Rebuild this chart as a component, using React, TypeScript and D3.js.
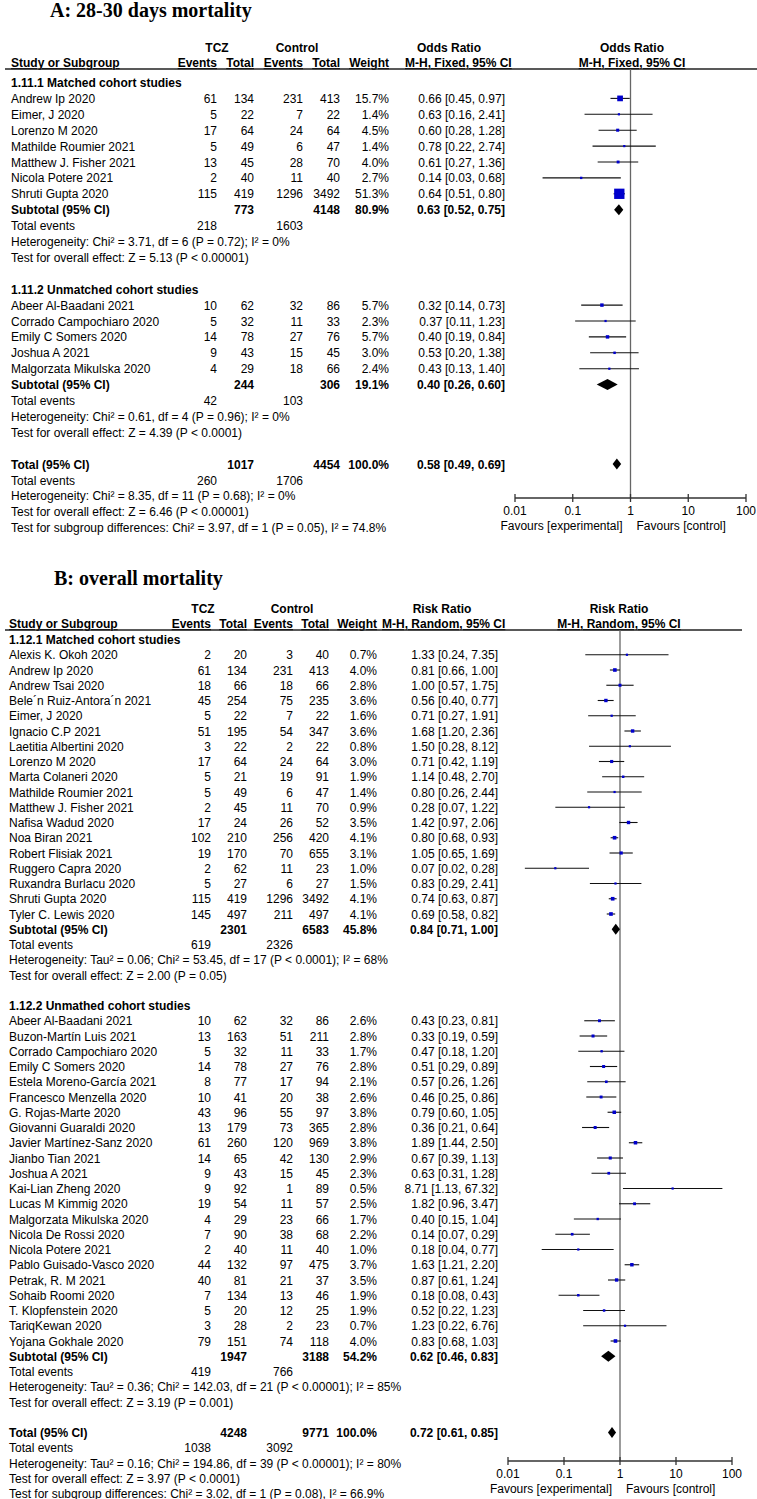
import React from "react";
import * as d3 from "d3";

// ---------------- Panel A data (28-30 days mortality, Odds Ratio) ----------------
const a1Studies = ["Andrew Ip 2020", "Eimer, J 2020", "Lorenzo M 2020", "Mathilde Roumier 2021", "Matthew J. Fisher 2021", "Nicola Potere 2021", "Shruti Gupta 2020"];
const a1EventsTcz = [61, 5, 17, 5, 13, 2, 115];
const a1TotalTcz = [134, 22, 64, 49, 45, 40, 419];
const a1EventsCtrl = [231, 7, 24, 6, 28, 11, 1296];
const a1TotalCtrl = [413, 22, 64, 47, 70, 40, 3492];
const a1Weight = [15.7, 1.4, 4.5, 1.4, 4.0, 2.7, 51.3];
const a1Est = [0.66, 0.63, 0.6, 0.78, 0.61, 0.14, 0.64];
const a1Lo = [0.45, 0.16, 0.28, 0.22, 0.27, 0.03, 0.51];
const a1Hi = [0.97, 2.41, 1.28, 2.74, 1.36, 0.68, 0.8];

const a2Studies = ["Abeer Al-Baadani 2021", "Corrado Campochiaro 2020", "Emily C Somers 2020", "Joshua A 2021", "Malgorzata Mikulska 2020"];
const a2EventsTcz = [10, 5, 14, 9, 4];
const a2TotalTcz = [62, 32, 78, 43, 29];
const a2EventsCtrl = [32, 11, 27, 15, 18];
const a2TotalCtrl = [86, 33, 76, 45, 66];
const a2Weight = [5.7, 2.3, 5.7, 3.0, 2.4];
const a2Est = [0.32, 0.37, 0.4, 0.53, 0.43];
const a2Lo = [0.14, 0.11, 0.19, 0.2, 0.13];
const a2Hi = [0.73, 1.23, 0.84, 1.38, 1.4];

// subtotal: [totalTcz, totalCtrl, weight, est, lo, hi], events: [tcz, ctrl]
const aSubtotals = [
  [773, 4148, 80.9, 0.63, 0.52, 0.75],
  [244, 306, 19.1, 0.4, 0.26, 0.6],
];
const aSubEvents = [[218, 1603], [42, 103]];
const aSections = ["1.11.1 Matched cohort studies", "1.11.2 Unmatched cohort studies"];
const aHet = ["Heterogeneity: Chi² = 3.71, df = 6 (P = 0.72); I² = 0%", "Heterogeneity: Chi² = 0.61, df = 4 (P = 0.96); I² = 0%"];
const aTest = ["Test for overall effect: Z = 5.13 (P < 0.00001)", "Test for overall effect: Z = 4.39 (P < 0.0001)"];
const aTotal = [1017, 4454, 100.0, 0.58, 0.49, 0.69];
const aTotalEvents = [260, 1706];
const aTotalTexts = [
  "Heterogeneity: Chi² = 8.35, df = 11 (P = 0.68); I² = 0%",
  "Test for overall effect: Z = 6.46 (P < 0.00001)",
  "Test for subgroup differences: Chi² = 3.97, df = 1 (P = 0.05), I² = 74.8%",
];

// ---------------- Panel B data (overall mortality, Risk Ratio) ----------------
const b1Studies = ["Alexis K. Okoh 2020", "Andrew Ip 2020", "Andrew Tsai 2020", "Bele´n Ruiz-Antora´n 2021", "Eimer, J 2020", "Ignacio C.P 2021", "Laetitia Albertini 2020", "Lorenzo M 2020", "Marta Colaneri 2020", "Mathilde Roumier 2021", "Matthew J. Fisher 2021", "Nafisa Wadud 2020", "Noa Biran 2021", "Robert Flisiak 2021", "Ruggero Capra 2020", "Ruxandra Burlacu 2020", "Shruti Gupta 2020", "Tyler C. Lewis 2020"];
const b1EventsTcz = [2, 61, 18, 45, 5, 51, 3, 17, 5, 5, 2, 17, 102, 19, 2, 5, 115, 145];
const b1TotalTcz = [20, 134, 66, 254, 22, 195, 22, 64, 21, 49, 45, 24, 210, 170, 62, 27, 419, 497];
const b1EventsCtrl = [3, 231, 18, 75, 7, 54, 2, 24, 19, 6, 11, 26, 256, 70, 11, 6, 1296, 211];
const b1TotalCtrl = [40, 413, 66, 235, 22, 347, 22, 64, 91, 47, 70, 52, 420, 655, 23, 27, 3492, 497];
const b1Weight = [0.7, 4.0, 2.8, 3.6, 1.6, 3.6, 0.8, 3.0, 1.9, 1.4, 0.9, 3.5, 4.1, 3.1, 1.0, 1.5, 4.1, 4.1];
const b1Est = [1.33, 0.81, 1.0, 0.56, 0.71, 1.68, 1.5, 0.71, 1.14, 0.8, 0.28, 1.42, 0.8, 1.05, 0.07, 0.83, 0.74, 0.69];
const b1Lo = [0.24, 0.66, 0.57, 0.4, 0.27, 1.2, 0.28, 0.42, 0.48, 0.26, 0.07, 0.97, 0.68, 0.65, 0.02, 0.29, 0.63, 0.58];
const b1Hi = [7.35, 1.0, 1.75, 0.77, 1.91, 2.36, 8.12, 1.19, 2.7, 2.44, 1.22, 2.06, 0.93, 1.69, 0.28, 2.41, 0.87, 0.82];

const b2Studies = ["Abeer Al-Baadani 2021", "Buzon-Martín Luis 2021", "Corrado Campochiaro 2020", "Emily C Somers 2020", "Estela Moreno-García 2021", "Francesco Menzella 2020", "G. Rojas-Marte 2020", "Giovanni Guaraldi 2020", "Javier Martínez-Sanz 2020", "Jianbo Tian 2021", "Joshua A 2021", "Kai-Lian Zheng 2020", "Lucas M Kimmig 2020", "Malgorzata Mikulska 2020", "Nicola De Rossi 2020", "Nicola Potere 2021", "Pablo Guisado-Vasco 2020", "Petrak, R. M 2021", "Sohaib Roomi 2020", "T. Klopfenstein 2020", "TariqKewan 2020", "Yojana Gokhale 2020"];
const b2EventsTcz = [10, 13, 5, 14, 8, 10, 43, 13, 61, 14, 9, 9, 19, 4, 7, 2, 44, 40, 7, 5, 3, 79];
const b2TotalTcz = [62, 163, 32, 78, 77, 41, 96, 179, 260, 65, 43, 92, 54, 29, 90, 40, 132, 81, 134, 20, 28, 151];
const b2EventsCtrl = [32, 51, 11, 27, 17, 20, 55, 73, 120, 42, 15, 1, 11, 23, 38, 11, 97, 21, 13, 12, 2, 74];
const b2TotalCtrl = [86, 211, 33, 76, 94, 38, 97, 365, 969, 130, 45, 89, 57, 66, 68, 40, 475, 37, 46, 25, 23, 118];
const b2Weight = [2.6, 2.8, 1.7, 2.8, 2.1, 2.6, 3.8, 2.8, 3.8, 2.9, 2.3, 0.5, 2.5, 1.7, 2.2, 1.0, 3.7, 3.5, 1.9, 1.9, 0.7, 4.0];
const b2Est = [0.43, 0.33, 0.47, 0.51, 0.57, 0.46, 0.79, 0.36, 1.89, 0.67, 0.63, 8.71, 1.82, 0.4, 0.14, 0.18, 1.63, 0.87, 0.18, 0.52, 1.23, 0.83];
const b2Lo = [0.23, 0.19, 0.18, 0.29, 0.26, 0.25, 0.6, 0.21, 1.44, 0.39, 0.31, 1.13, 0.96, 0.15, 0.07, 0.04, 1.21, 0.61, 0.08, 0.22, 0.22, 0.68];
const b2Hi = [0.81, 0.59, 1.2, 0.89, 1.26, 0.86, 1.05, 0.64, 2.5, 1.13, 1.28, 67.32, 3.47, 1.04, 0.29, 0.77, 2.2, 1.24, 0.43, 1.23, 6.76, 1.03];

const bSubtotals = [
  [2301, 6583, 45.8, 0.84, 0.71, 1.0],
  [1947, 3188, 54.2, 0.62, 0.46, 0.83],
];
const bSubEvents = [[619, 2326], [419, 766]];
const bSections = ["1.12.1 Matched cohort studies", "1.12.2 Unmathed cohort studies"];
const bHet = ["Heterogeneity: Tau² = 0.06; Chi² = 53.45, df = 17 (P < 0.0001); I² = 68%", "Heterogeneity: Tau² = 0.36; Chi² = 142.03, df = 21 (P < 0.00001); I² = 85%"];
const bTest = ["Test for overall effect: Z = 2.00 (P = 0.05)", "Test for overall effect: Z = 3.19 (P = 0.001)"];
const bTotal = [4248, 9771, 100.0, 0.72, 0.61, 0.85];
const bTotalEvents = [1038, 3092];
const bTotalTexts = [
  "Heterogeneity: Tau² = 0.16; Chi² = 194.86, df = 39 (P < 0.00001); I² = 80%",
  "Test for overall effect: Z = 3.97 (P < 0.0001)",
  "Test for subgroup differences: Chi² = 3.02, df = 1 (P = 0.08), I² = 66.9%",
];

const axisTicks = [0.01, 0.1, 1, 10, 100];
const axisTickLabels = ["0.01", "0.1", "1", "10", "100"];

// ---------------- helpers ----------------
interface Row { name: string; et: number; tt: number; ec: number; tc: number; w: number; est: number; lo: number; hi: number; }
function zipRows(n: string[], et: number[], tt: number[], ec: number[], tc: number[], w: number[], est: number[], lo: number[], hi: number[]): Row[] {
  return n.map((name, i) => ({ name, et: et[i], tt: tt[i], ec: ec[i], tc: tc[i], w: w[i], est: est[i], lo: lo[i], hi: hi[i] }));
}
interface Group { label: string; rows: Row[]; sub: number[]; events: number[]; het: string; test: string; }

const f2 = (v: number) => v.toFixed(2);
const ciText = (e: number, l: number, h: number) => `${f2(e)} [${f2(l)}, ${f2(h)}]`;
const pct = (w: number) => `${w.toFixed(1)}%`;

interface Layout {
  title: string; titleX: number; titleY: number;
  h1Y: number; h2Y: number; lineY: number; lineX1: number; lineX2: number;
  cStudy: number; cEt: number; cTt: number; cEc: number; cTc: number; cW: number; cCi: number;
  tczX: number; ctrlX: number; ratioX: number; mhX: number; plotHeadX: number;
  ratioLabel: string; mhLabel: string;
  rowY0: number; rowStep: number;
  xRange: [number, number]; axisY: number;
  sqK: number; diamondH: number; fontSize: number;
}

function Panel({ L, groups, total, totalEvents, totalTexts }: { L: Layout; groups: Group[]; total: number[]; totalEvents: number[]; totalTexts: string[] }) {
  const x = d3.scaleLog().domain([0.01, 100]).range(L.xRange);
  const y = (i: number) => L.rowY0 + i * L.rowStep;
  const fs = L.fontSize;
  const txt = (props: any, s: string | number, key?: any) => (
    <text key={key} fontSize={fs} fill="#000" {...props}>{s}</text>
  );
  const out: React.ReactNode[] = [];
  const marks: React.ReactNode[] = [];
  const base = (i: number) => y(i) + 4;
  const markY = (i: number) => y(i) - 0.5;

  const diamond = (i: number, e: number, l: number, h: number, k: string) => {
    const cy = markY(i);
    const hh = L.diamondH / 2;
    const p = d3.path();
    p.moveTo(x(l), cy); p.lineTo(x(e), cy - hh); p.lineTo(x(h), cy); p.lineTo(x(e), cy + hh); p.closePath();
    return <path key={k} d={p.toString()} fill="#000" />;
  };

  let idx = 0;
  groups.forEach((g, gi) => {
    out.push(txt({ x: L.cStudy, y: base(idx), fontWeight: "bold" }, g.label, `sec${gi}`));
    idx++;
    g.rows.forEach((r, ri) => {
      const b = base(idx);
      const k = `r${gi}_${ri}`;
      out.push(txt({ x: L.cStudy, y: b }, r.name, k + "n"));
      out.push(txt({ x: L.cEt, y: b, textAnchor: "end" }, r.et, k + "a"));
      out.push(txt({ x: L.cTt, y: b, textAnchor: "end" }, r.tt, k + "b"));
      out.push(txt({ x: L.cEc, y: b, textAnchor: "end" }, r.ec, k + "c"));
      out.push(txt({ x: L.cTc, y: b, textAnchor: "end" }, r.tc, k + "d"));
      out.push(txt({ x: L.cW, y: b, textAnchor: "end" }, pct(r.w), k + "e"));
      out.push(txt({ x: L.cCi, y: b, textAnchor: "end" }, ciText(r.est, r.lo, r.hi), k + "f"));
      const cy = markY(idx);
      const s = Math.max(2.2, L.sqK * Math.sqrt(r.w));
      marks.push(<line key={k + "l"} x1={x(r.lo)} x2={x(r.hi)} y1={cy} y2={cy} stroke="#111" strokeWidth={1.1} />);
      marks.push(<rect key={k + "s"} x={x(r.est) - s / 2} y={cy - s / 2} width={s} height={s} fill="#0000cc" />);
      idx++;
    });
    {
      const b = base(idx);
      const k = `sub${gi}`;
      out.push(txt({ x: L.cStudy, y: b, fontWeight: "bold" }, "Subtotal (95% CI)", k + "n"));
      out.push(txt({ x: L.cTt, y: b, textAnchor: "end", fontWeight: "bold" }, g.sub[0], k + "b"));
      out.push(txt({ x: L.cTc, y: b, textAnchor: "end", fontWeight: "bold" }, g.sub[1], k + "d"));
      out.push(txt({ x: L.cW, y: b, textAnchor: "end", fontWeight: "bold" }, pct(g.sub[2]), k + "e"));
      out.push(txt({ x: L.cCi, y: b, textAnchor: "end", fontWeight: "bold" }, ciText(g.sub[3], g.sub[4], g.sub[5]), k + "f"));
      marks.push(diamond(idx, g.sub[3], g.sub[4], g.sub[5], k + "dm"));
      idx++;
    }
    out.push(txt({ x: L.cStudy, y: base(idx) }, "Total events", `te${gi}`));
    out.push(txt({ x: L.cEt, y: base(idx), textAnchor: "end" }, g.events[0], `te${gi}a`));
    out.push(txt({ x: L.cEc, y: base(idx), textAnchor: "end" }, g.events[1], `te${gi}c`));
    idx++;
    out.push(txt({ x: L.cStudy, y: base(idx) }, g.het, `het${gi}`));
    idx++;
    out.push(txt({ x: L.cStudy, y: base(idx) }, g.test, `tst${gi}`));
    idx++;
    idx++; // blank line
  });
  {
    const b = base(idx);
    out.push(txt({ x: L.cStudy, y: b, fontWeight: "bold" }, "Total (95% CI)", "totn"));
    out.push(txt({ x: L.cTt, y: b, textAnchor: "end", fontWeight: "bold" }, total[0], "totb"));
    out.push(txt({ x: L.cTc, y: b, textAnchor: "end", fontWeight: "bold" }, total[1], "totd"));
    out.push(txt({ x: L.cW, y: b, textAnchor: "end", fontWeight: "bold" }, pct(total[2]), "tote"));
    out.push(txt({ x: L.cCi, y: b, textAnchor: "end", fontWeight: "bold" }, ciText(total[3], total[4], total[5]), "totf"));
    marks.push(diamond(idx, total[3], total[4], total[5], "totdm"));
    idx++;
  }
  out.push(txt({ x: L.cStudy, y: base(idx) }, "Total events", "tte"));
  out.push(txt({ x: L.cEt, y: base(idx), textAnchor: "end" }, totalEvents[0], "ttea"));
  out.push(txt({ x: L.cEc, y: base(idx), textAnchor: "end" }, totalEvents[1], "ttec"));
  idx++;
  totalTexts.forEach((t, i) => {
    out.push(txt({ x: L.cStudy, y: base(idx) }, t, `tt${i}`));
    idx++;
  });

  const x1 = x(1);
  const ul = { textDecoration: "underline" };
  return (
    <g>
      <text x={L.titleX} y={L.titleY} fontFamily="'Liberation Serif', 'Times New Roman', serif" fontWeight="bold" fontSize={20} fill="#000">{L.title}</text>
      {/* headers */}
      {txt({ x: L.tczX, y: L.h1Y, textAnchor: "middle", fontWeight: "bold" }, "TCZ", "h1")}
      {txt({ x: L.ctrlX, y: L.h1Y, textAnchor: "middle", fontWeight: "bold" }, "Control", "h2")}
      {txt({ x: L.ratioX, y: L.h1Y, textAnchor: "middle", fontWeight: "bold" }, L.ratioLabel, "h3")}
      {txt({ x: L.plotHeadX, y: L.h1Y, textAnchor: "middle", fontWeight: "bold" }, L.ratioLabel, "h4")}
      {txt({ x: L.cStudy, y: L.h2Y, fontWeight: "bold", style: ul }, "Study or Subgroup", "h5")}
      {txt({ x: L.cEt, y: L.h2Y, textAnchor: "end", fontWeight: "bold", style: ul }, "Events", "h6")}
      {txt({ x: L.cTt, y: L.h2Y, textAnchor: "end", fontWeight: "bold", style: ul }, "Total", "h7")}
      {txt({ x: L.cEc, y: L.h2Y, textAnchor: "end", fontWeight: "bold", style: ul }, "Events", "h8")}
      {txt({ x: L.cTc, y: L.h2Y, textAnchor: "end", fontWeight: "bold", style: ul }, "Total", "h9")}
      {txt({ x: L.cW, y: L.h2Y, textAnchor: "end", fontWeight: "bold", style: ul }, "Weight", "h10")}
      {txt({ x: L.mhX, y: L.h2Y, fontWeight: "bold", style: ul }, L.mhLabel, "h11")}
      {txt({ x: L.plotHeadX, y: L.h2Y, textAnchor: "middle", fontWeight: "bold", style: ul }, L.mhLabel, "h12")}
      <line x1={L.lineX1} x2={L.lineX2} y1={L.lineY} y2={L.lineY} stroke="#222" strokeWidth={1.3} />
      {/* null line */}
      <line x1={x1} x2={x1} y1={L.lineY} y2={L.axisY} stroke="#666" strokeWidth={1.3} />
      {out}
      {marks}
      {/* axis */}
      <line x1={L.xRange[0]} x2={L.xRange[1]} y1={L.axisY} y2={L.axisY} stroke="#333" strokeWidth={1.3} />
      {axisTicks.map((t, i) => (
        <g key={"tk" + i}>
          <line x1={x(t)} x2={x(t)} y1={L.axisY - 4} y2={L.axisY + 4} stroke="#333" strokeWidth={1.3} />
          {txt({ x: x(t), y: L.axisY + 17, textAnchor: "middle" }, axisTickLabels[i])}
        </g>
      ))}
      {txt({ x: x1 - 8, y: L.axisY + 32, textAnchor: "end" }, "Favours [experimental]", "fe")}
      {txt({ x: x1 + 6, y: L.axisY + 32 }, "Favours [control]", "fc")}
    </g>
  );
}

const layoutA: Layout = {
  title: "A: 28-30 days mortality", titleX: 50, titleY: 17,
  h1Y: 52, h2Y: 67, lineY: 69, lineX1: 5, lineX2: 757,
  cStudy: 11, cEt: 217, cTt: 254, cEc: 303, cTc: 340, cW: 389, cCi: 505,
  tczX: 217, ctrlX: 297, ratioX: 449, mhX: 405, plotHeadX: 632,
  ratioLabel: "Odds Ratio", mhLabel: "M-H, Fixed, 95% CI",
  rowY0: 83, rowStep: 15.9,
  xRange: [515, 746], axisY: 498,
  sqK: 1.44, diamondH: 11, fontSize: 12,
};

const layoutB: Layout = {
  title: "B: overall mortality", titleX: 54, titleY: 585,
  h1Y: 613, h2Y: 628, lineY: 630, lineX1: 5, lineX2: 742,
  cStudy: 9, cEt: 211, cTt: 247, cEc: 293, cTc: 329, cW: 377, cCi: 498,
  tczX: 203, ctrlX: 292, ratioX: 442, mhX: 382, plotHeadX: 619,
  ratioLabel: "Risk Ratio", mhLabel: "M-H, Random, 95% CI",
  rowY0: 640, rowStep: 15.25,
  xRange: [508, 732], axisY: 1461,
  sqK: 1.8, diamondH: 11, fontSize: 12,
};

export default function App() {
  const groupsA: Group[] = [
    { label: aSections[0], rows: zipRows(a1Studies, a1EventsTcz, a1TotalTcz, a1EventsCtrl, a1TotalCtrl, a1Weight, a1Est, a1Lo, a1Hi), sub: aSubtotals[0], events: aSubEvents[0], het: aHet[0], test: aTest[0] },
    { label: aSections[1], rows: zipRows(a2Studies, a2EventsTcz, a2TotalTcz, a2EventsCtrl, a2TotalCtrl, a2Weight, a2Est, a2Lo, a2Hi), sub: aSubtotals[1], events: aSubEvents[1], het: aHet[1], test: aTest[1] },
  ];
  const groupsB: Group[] = [
    { label: bSections[0], rows: zipRows(b1Studies, b1EventsTcz, b1TotalTcz, b1EventsCtrl, b1TotalCtrl, b1Weight, b1Est, b1Lo, b1Hi), sub: bSubtotals[0], events: bSubEvents[0], het: bHet[0], test: bTest[0] },
    { label: bSections[1], rows: zipRows(b2Studies, b2EventsTcz, b2TotalTcz, b2EventsCtrl, b2TotalCtrl, b2Weight, b2Est, b2Lo, b2Hi), sub: bSubtotals[1], events: bSubEvents[1], het: bHet[1], test: bTest[1] },
  ];
  return (
    <svg width={757} height={1499} style={{ position: "absolute", left: 0, top: 0, background: "#fff" }}
      fontFamily="'Liberation Sans', Arial, sans-serif">
      <rect width={757} height={1499} fill="#fff" />
      <Panel L={layoutA} groups={groupsA} total={aTotal} totalEvents={aTotalEvents} totalTexts={aTotalTexts} />
      <Panel L={layoutB} groups={groupsB} total={bTotal} totalEvents={bTotalEvents} totalTexts={bTotalTexts} />
    </svg>
  );
}
